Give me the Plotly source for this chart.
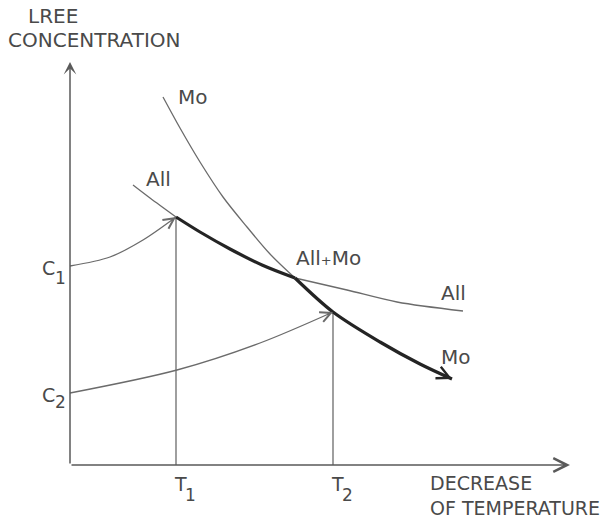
import plotly.graph_objects as go

# Schematic: LREE concentration versus decrease of temperature
# Allanite (All) and monazite (Mo) saturation curves, data units are arbitrary.

# saturation curve of allanite, split where the bold path follows it
all_upper_x = [6.3, 8.0, 10.6]
all_upper_y = [28.0, 26.7, 24.8]
all_bold_x = [10.6, 13.0, 16.0, 19.2, 22.5]
all_bold_y = [24.8, 23.3, 21.6, 20.0, 18.7]
all_lower_x = [22.5, 27.7, 32.7, 39.3]
all_lower_y = [18.7, 17.5, 16.3, 15.4]

# saturation curve of monazite
mo_upper_x = [9.3, 11.0, 13.0, 15.3, 17.7, 20.0, 22.5]
mo_upper_y = [36.8, 33.7, 30.3, 26.8, 23.8, 21.1, 18.7]
mo_bold_x = [22.5, 26.3, 31.0, 35.0, 38.2]
mo_bold_y = [18.7, 15.3, 12.3, 10.1, 8.6]

# cooling paths of melts starting at C1 and C2
path1_x = [0.0, 4.0, 7.3, 10.6]
path1_y = [19.9, 20.8, 22.5, 24.8]
path2_x = [0.0, 10.7, 19.0, 26.3]
path2_y = [7.2, 9.5, 12.2, 15.3]

# saturation temperatures
temp_names = ["1", "2"]
temp_values = [10.6, 26.3]
temp_sat_conc = [24.8, 15.3]

axis_x_end = 50.0
axis_y_end = 40.3

THIN = "#6b6b6b"
BOLD = "#242424"
AXIS = "#5a5a5a"
TEXT = "#4a4a4a"
FONT = "DejaVu Sans"

fig = go.Figure()


def curve(x, y, color, width):
    fig.add_trace(go.Scatter(
        x=x, y=y, mode="lines",
        line=dict(color=color, width=width, shape="spline", smoothing=0.9),
        hoverinfo="skip", showlegend=False,
    ))


curve(all_upper_x, all_upper_y, THIN, 1.3)
curve(all_lower_x, all_lower_y, THIN, 1.3)
curve(mo_upper_x, mo_upper_y, THIN, 1.3)
curve(path1_x, path1_y, THIN, 1.3)
curve(path2_x, path2_y, THIN, 1.3)

# vertical drop lines at T1 and T2
for t, c in zip(temp_values, temp_sat_conc):
    fig.add_trace(go.Scatter(
        x=[t, t], y=[0, c], mode="lines",
        line=dict(color=THIN, width=1.3),
        hoverinfo="skip", showlegend=False,
    ))

curve(all_bold_x, all_bold_y, BOLD, 3.2)
curve(mo_bold_x, mo_bold_y, BOLD, 3.2)


def arrow_head(xs, ys, color, width, size, head=5, frac=0.12):
    """Arrowhead at the end of a polyline, aligned with its last segment."""
    x1, y1 = xs[-1], ys[-1]
    x0, y0 = xs[-2], ys[-2]
    fig.add_annotation(
        x=x1, y=y1, ax=x1 - frac * (x1 - x0), ay=y1 - frac * (y1 - y0),
        xref="x", yref="y", axref="x", ayref="y",
        text="", showarrow=True, arrowhead=head, arrowsize=size,
        arrowwidth=width, arrowcolor=color, standoff=0, startstandoff=0,
    )


arrow_head(path1_x, path1_y, THIN, 1.3, 1.6, frac=0.15)
arrow_head(path2_x, path2_y, THIN, 1.3, 1.6, frac=0.1)
arrow_head(mo_bold_x, mo_bold_y, BOLD, 2.6, 0.95, frac=0.3)

# axes with arrows
fig.add_annotation(x=0, y=axis_y_end, ax=0, ay=0, xref="x", yref="y",
                   axref="x", ayref="y", text="", showarrow=True,
                   arrowhead=3, arrowsize=1.4, arrowwidth=1.5,
                   arrowcolor=AXIS, standoff=0)
fig.add_annotation(x=axis_x_end, y=0, ax=0, ay=0, xref="x", yref="y",
                   axref="x", ayref="y", text="", showarrow=True,
                   arrowhead=5, arrowsize=1.8, arrowwidth=1.5,
                   arrowcolor=AXIS, standoff=0)


def label(text, x, y, size=20, xanchor="left", align="left"):
    fig.add_annotation(x=x, y=y, xref="x", yref="y", text=text,
                       showarrow=False, xanchor=xanchor, yanchor="middle",
                       align=align, borderpad=0,
                       font=dict(family=FONT, size=size, color=TEXT))


label("LREE", -4.3, 44.95)
label("CONCENTRATION", -6.3, 42.55)
label("Mo", 10.7, 36.85)
label("All", 7.5, 28.6)
label("All<span style='font-size:13px'>+</span>Mo", 22.5, 20.7)
label("All", 37.0, 17.2)
label("Mo", 37.0, 10.8)

# C1, C2 on the concentration axis
label("C", -2.9, path1_y[0] - 0.2, size=19)
label("1", -1.6, path1_y[0] - 1.2, size=17)
label("C", -2.9, path2_y[0] - 0.15, size=19)
label("2", -1.6, path2_y[0] - 0.85, size=17)

# T1, T2 on the temperature axis
for name, t in zip(temp_names, temp_values):
    label("T", t - 0.3, -1.85, size=19)
    label(name, t + 0.75, -2.95, size=17)

fig.add_annotation(x=35.9, y=-3.05, xref="x", yref="y",
                   text="DECREASE<br>OF TEMPERATURE", showarrow=False,
                   xanchor="left", yanchor="middle", align="left",
                   borderpad=0,
                   font=dict(family=FONT, size=19, color=TEXT))

fig.update_xaxes(range=[-7.0, 54.6], visible=False, fixedrange=True)
fig.update_yaxes(range=[-5.4, 46.5], visible=False, fixedrange=True)
fig.update_layout(
    width=616, height=519,
    margin=dict(l=0, r=0, t=0, b=0),
    paper_bgcolor="white", plot_bgcolor="white",
    showlegend=False,
)

fig.write_html("out.html", config={"displayModeBar": False})
